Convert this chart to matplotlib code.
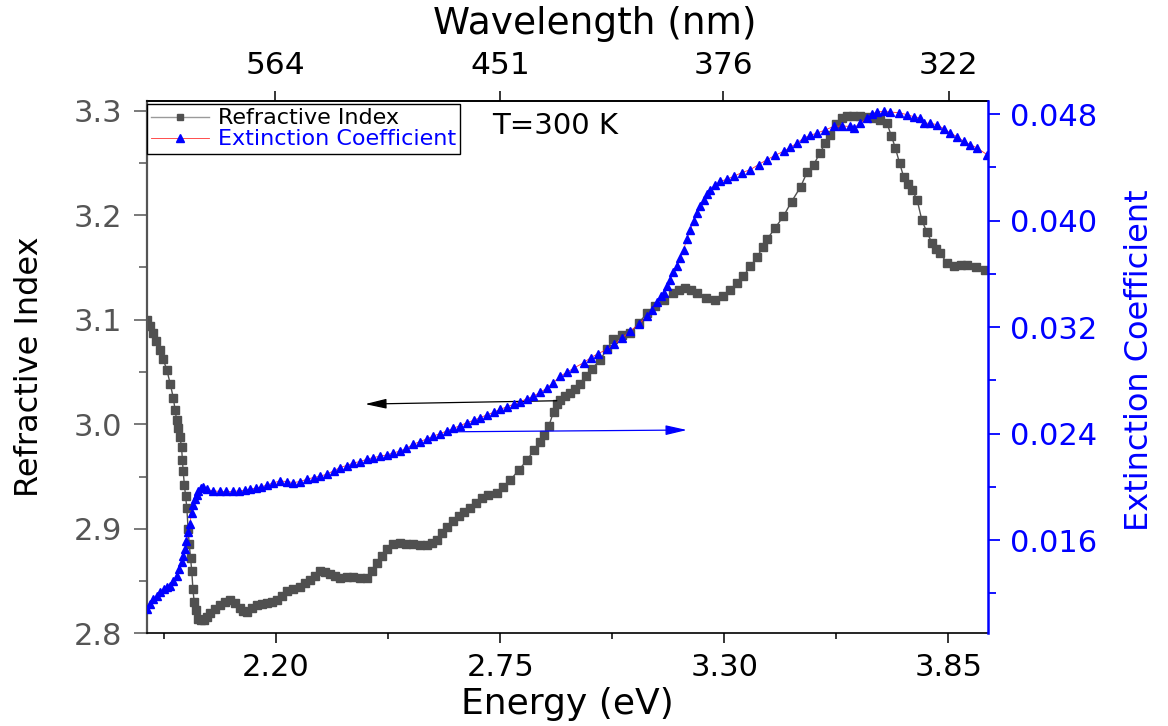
import matplotlib
matplotlib.use("Agg")
import matplotlib.pyplot as plt
from matplotlib.ticker import FixedLocator, FormatStrFormatter, NullLocator

plt.rcParams['font.family'] = ['DejaVu Sans']

# ---------------- data ----------------
energy_n_eV = [
    1.8825, 1.890, 1.898, 1.906, 1.915, 1.923, 1.932, 1.940, 1.948, 1.952,
    1.956, 1.960, 1.964, 1.968, 1.970, 1.972, 1.975, 1.978, 1.981, 1.984,
    1.987, 1.990, 1.993, 1.996, 1.999, 2.003, 2.008, 2.015, 2.022, 2.030,
    2.038, 2.050, 2.062, 2.075, 2.087, 2.100, 2.112, 2.120, 2.128, 2.140,
    2.153, 2.165, 2.177, 2.190, 2.202, 2.214, 2.226, 2.242, 2.259, 2.272,
    2.283, 2.296, 2.308, 2.320, 2.333, 2.345, 2.357, 2.373, 2.390, 2.406,
    2.423, 2.435, 2.447, 2.459, 2.472, 2.488, 2.504, 2.520, 2.537, 2.553,
    2.570, 2.582, 2.595, 2.607, 2.619, 2.633, 2.648, 2.662, 2.676, 2.690,
    2.705, 2.720, 2.742, 2.758, 2.775, 2.795, 2.816, 2.832, 2.848, 2.858,
    2.869, 2.881, 2.890, 2.897, 2.910, 2.922, 2.934, 2.946, 2.960, 2.975,
    2.995, 3.012, 3.028, 3.048, 3.069, 3.090, 3.110, 3.130, 3.151, 3.175,
    3.190, 3.204, 3.218, 3.233, 3.255, 3.278, 3.296, 3.315, 3.330, 3.347,
    3.364, 3.380, 3.396, 3.405, 3.425, 3.445, 3.465, 3.487, 3.503, 3.519,
    3.535, 3.548, 3.560, 3.575, 3.590, 3.601, 3.615, 3.634, 3.650, 3.666,
    3.683, 3.699, 3.710, 3.720, 3.730, 3.740, 3.750, 3.761, 3.773, 3.785,
    3.797, 3.810, 3.820, 3.830, 3.847, 3.863, 3.880, 3.896, 3.918, 3.940,
]
refractive_index = [
    3.100, 3.094, 3.087, 3.080, 3.071, 3.062, 3.052, 3.039, 3.025, 3.014,
    3.004, 2.996, 2.988, 2.978, 2.966, 2.955, 2.942, 2.931, 2.920, 2.900,
    2.885, 2.872, 2.860, 2.842, 2.830, 2.822, 2.814, 2.8125, 2.813, 2.816,
    2.819, 2.823, 2.827, 2.830, 2.832, 2.829, 2.824, 2.821, 2.8206, 2.824,
    2.827, 2.828, 2.829, 2.830, 2.832, 2.836, 2.840, 2.842, 2.8445, 2.848,
    2.851, 2.855, 2.860, 2.859, 2.857, 2.855, 2.853, 2.854, 2.854, 2.853,
    2.853, 2.860, 2.867, 2.874, 2.881, 2.885, 2.886, 2.885, 2.885, 2.884,
    2.884, 2.886, 2.889, 2.896, 2.902, 2.907, 2.912, 2.916, 2.9195, 2.925,
    2.929, 2.932, 2.934, 2.940, 2.9466, 2.956, 2.9657, 2.975, 2.983, 2.990,
    2.998, 3.012, 3.019, 3.023, 3.027, 3.0296, 3.034, 3.039, 3.046, 3.053,
    3.0614, 3.072, 3.082, 3.085, 3.087, 3.097, 3.106, 3.113, 3.119, 3.1253,
    3.128, 3.130, 3.128, 3.1253, 3.121, 3.119, 3.123, 3.128, 3.135, 3.142,
    3.151, 3.160, 3.170, 3.177, 3.188, 3.199, 3.213, 3.227, 3.241, 3.248,
    3.260, 3.269, 3.277, 3.287, 3.293, 3.295, 3.295, 3.295, 3.294, 3.293,
    3.291, 3.288, 3.276, 3.264, 3.250, 3.237, 3.230, 3.224, 3.215, 3.195,
    3.184, 3.173, 3.168, 3.1635, 3.154, 3.151, 3.152, 3.1524, 3.150, 3.148,
]

energy_k_eV = [
    1.8825, 1.890, 1.899, 1.907, 1.915, 1.925, 1.933, 1.940, 1.948, 1.956,
    1.962, 1.968, 1.972, 1.9765, 1.980, 1.9846, 1.988, 1.993, 1.997, 2.001,
    2.005, 2.009, 2.015, 2.0215, 2.030, 2.046, 2.062, 2.078, 2.095, 2.110,
    2.123, 2.136, 2.150, 2.163, 2.177, 2.193, 2.2098, 2.226, 2.2424, 2.259,
    2.2754, 2.292, 2.308, 2.3244, 2.341, 2.3571, 2.373, 2.390, 2.406, 2.4226,
    2.439, 2.455, 2.472, 2.488, 2.5044, 2.520, 2.537, 2.553, 2.570, 2.5862,
    2.603, 2.619, 2.635, 2.652, 2.6682, 2.685, 2.701, 2.717, 2.734, 2.750,
    2.766, 2.783, 2.799, 2.815, 2.8317, 2.848, 2.864, 2.880, 2.897, 2.913,
    2.930, 2.9545, 2.972, 2.990, 3.012, 3.030, 3.050, 3.0691, 3.090, 3.1101,
    3.122, 3.135, 3.145, 3.1509, 3.159, 3.1673, 3.175, 3.1837, 3.192, 3.2001,
    3.208, 3.2165, 3.225, 3.2329, 3.241, 3.2491, 3.257, 3.2655, 3.278, 3.2901,
    3.306, 3.3227, 3.343, 3.3638, 3.384, 3.4047, 3.425, 3.4455, 3.462, 3.4784,
    3.495, 3.511, 3.5275, 3.548, 3.5683, 3.589, 3.6093, 3.6174, 3.634, 3.6503,
    3.662, 3.6748, 3.691, 3.7075, 3.728, 3.7484, 3.765, 3.7811, 3.7892, 3.806,
    3.8222, 3.838, 3.8548, 3.871, 3.8874, 3.904, 3.9203, 3.9449,
]
extinction_coefficient = [
    0.0108, 0.0112, 0.01157, 0.0118, 0.01207, 0.0123, 0.01245, 0.01257, 0.0129, 0.01332,
    0.0138, 0.01432, 0.0148, 0.01532, 0.0159, 0.01657, 0.0172, 0.01807, 0.0186, 0.01907,
    0.0194, 0.01969, 0.0199, 0.01995, 0.0198, 0.01969, 0.01966, 0.01965, 0.01965, 0.0197,
    0.01975, 0.01982, 0.0199, 0.0200, 0.02012, 0.0203, 0.02044, 0.0204, 0.02032, 0.0204,
    0.02057, 0.0207, 0.0208, 0.02095, 0.0212, 0.02145, 0.0216, 0.0218, 0.0219, 0.02207,
    0.0222, 0.0223, 0.0224, 0.02255, 0.02269, 0.0229, 0.0232, 0.0234, 0.0236, 0.02382,
    0.0240, 0.0242, 0.0244, 0.0246, 0.02482, 0.0250, 0.0252, 0.0254, 0.0256, 0.02582,
    0.0260, 0.0262, 0.0264, 0.0266, 0.02682, 0.0271, 0.0274, 0.0278, 0.0283, 0.0286,
    0.0289, 0.02932, 0.0297, 0.0300, 0.03032, 0.0307, 0.0312, 0.03169, 0.0322, 0.03282,
    0.0333, 0.0339, 0.0343, 0.03457, 0.0351, 0.03557, 0.0361, 0.03657, 0.0372, 0.03782,
    0.0386, 0.03932, 0.0400, 0.04057, 0.0411, 0.04157, 0.0420, 0.04232, 0.0427, 0.04294,
    0.0431, 0.04332, 0.0436, 0.04382, 0.0442, 0.04457, 0.0449, 0.0452, 0.0455, 0.04582,
    0.0462, 0.0464, 0.04657, 0.0468, 0.04707, 0.0471, 0.04707, 0.04695, 0.0473, 0.0477,
    0.0480, 0.04815, 0.0482, 0.04815, 0.0481, 0.04795, 0.0478, 0.0477, 0.04732, 0.0473,
    0.0472, 0.0469, 0.04657, 0.0463, 0.04595, 0.0457, 0.04545, 0.04495,
]

energy_ticks = [2.20, 2.75, 3.30, 3.85]
energy_minor_ticks = [1.925, 2.475, 3.025, 3.575]
wavelength_ticks_nm = [564, 451, 376, 322]
n_ticks = [2.8, 2.9, 3.0, 3.1, 3.2, 3.3]
n_minor_ticks = [2.85, 2.95, 3.05, 3.15, 3.25]
k_ticks = [0.016, 0.024, 0.032, 0.040, 0.048]
k_minor_ticks = [0.012, 0.020, 0.028, 0.036, 0.044]

GRAY = '#505050'
BLUE = '#0000ff'

fig = plt.figure(figsize=(11.68, 7.26), dpi=100)
ax1 = fig.add_axes([0.1256, 0.1277, 0.7206, 0.7336])
ax2 = ax1.twinx()

ln1, = ax1.plot(energy_n_eV, refractive_index, color=GRAY, lw=1.0,
                marker='s', ms=5.2, mec=GRAY, mfc=GRAY, label='Refractive Index')
ln2, = ax2.plot(energy_k_eV, extinction_coefficient, color='#ff3030', lw=0.6,
                marker='^', ms=6.4, mec=BLUE, mfc=BLUE, label='Extinction Coefficient')

ax1.set_xlim(1.8825, 3.948)
ax1.set_ylim(2.8, 3.3096)
ax2.set_ylim(0.0090, 0.0490)

# ticks
ax1.xaxis.set_major_locator(FixedLocator(energy_ticks))
ax1.xaxis.set_minor_locator(FixedLocator(energy_minor_ticks))
ax1.xaxis.set_major_formatter(FormatStrFormatter('%.2f'))
ax1.yaxis.set_major_locator(FixedLocator(n_ticks))
ax1.yaxis.set_minor_locator(FixedLocator(n_minor_ticks))
ax1.yaxis.set_major_formatter(FormatStrFormatter('%.1f'))
ax2.yaxis.set_major_locator(FixedLocator(k_ticks))
ax2.yaxis.set_minor_locator(FixedLocator(k_minor_ticks))
ax2.yaxis.set_major_formatter(FormatStrFormatter('%.3f'))

ax1.tick_params(axis='x', which='major', direction='out', length=7, width=1.1,
                labelsize=22, pad=7, colors='black')
ax1.tick_params(axis='x', which='minor', direction='out', length=4, width=1.1)
ax1.tick_params(axis='y', which='major', direction='out', length=9.5, width=1.1,
                labelsize=22, pad=8, color='#555555', labelcolor='#555555')
ax1.tick_params(axis='y', which='minor', direction='out', length=5.5, width=1.1,
                color='#555555')
ax2.tick_params(axis='y', which='major', direction='out', length=8.5, width=1.3,
                labelsize=22, pad=7, colors=BLUE)
ax2.tick_params(axis='y', which='minor', direction='out', length=5.5, width=1.3,
                colors=BLUE)

ax1.spines['left'].set_color('#555555')
ax1.spines['left'].set_linewidth(1.6)
for s in ['bottom', 'top']:
    ax1.spines[s].set_color('black')
    ax1.spines[s].set_linewidth(1.2)
ax1.spines['right'].set_visible(False)
for s in ['left', 'top', 'bottom']:
    ax2.spines[s].set_visible(False)
ax2.spines['right'].set_color(BLUE)
ax2.spines['right'].set_linewidth(1.8)

# top wavelength axis
secax = ax1.secondary_xaxis('top', functions=(lambda e: 1240.0 / e, lambda w: 1240.0 / w))
secax.xaxis.set_major_locator(FixedLocator(wavelength_ticks_nm))
secax.xaxis.set_minor_locator(NullLocator())
secax.xaxis.set_major_formatter(FormatStrFormatter('%d'))
secax.tick_params(axis='x', which='major', direction='out', length=7, width=1.1,
                  labelsize=22.5, pad=8)
secax.spines['top'].set_linewidth(1.2)

# axis titles
fig.text(595 / 1168, 1 - 24 / 726, 'Wavelength (nm)', fontsize=27,
         ha='center', va='center')
fig.text(567 / 1168, 1 - 704 / 726, 'Energy (eV)', fontsize=26,
         ha='center', va='center')
fig.text(30 / 1168, 1 - 367 / 726, 'Refractive Index', fontsize=23,
         rotation=90, ha='center', va='center')
fig.text(1139 / 1168, 1 - 360 / 726, 'Extinction Coefficient', fontsize=23,
         rotation=90, ha='center', va='center', color=BLUE)

# annotation text
ax1.text(2.73, 3.2774, 'T=300 K', fontsize=21, ha='left', va='baseline')

# arrows
ax1.annotate('', xy=(2.4185, 3.0193), xytext=(2.889, 3.0225),
             arrowprops=dict(arrowstyle='-|>,head_length=0.65,head_width=0.15',
                             color='black', lw=0.9, shrinkA=0, shrinkB=0,
                             mutation_scale=20))
ax1.annotate('', xy=(3.2083, 2.9945), xytext=(2.6345, 2.9928),
             arrowprops=dict(arrowstyle='-|>,head_length=0.65,head_width=0.15',
                             color=BLUE, lw=0.9, shrinkA=0, shrinkB=0,
                             mutation_scale=20))

# legend
leg = ax2.legend(handles=[ln1, ln2], loc='upper left', bbox_to_anchor=(0.0, 0.994),
                 borderaxespad=0, fontsize=16, frameon=True, fancybox=False,
                 edgecolor='black', framealpha=1, numpoints=1,
                 handlelength=2.6, handletextpad=0.4, labelspacing=0.05,
                 borderpad=0.2)
leg.get_frame().set_linewidth(1.0)
leg.legend_handles[0].set_color('#9a9a9a')
leg.legend_handles[0].set_markerfacecolor(GRAY)
leg.legend_handles[0].set_markeredgecolor(GRAY)
leg.legend_handles[0].set_markersize(4.5)
leg.legend_handles[1].set_markersize(5.5)
leg.get_texts()[0].set_color('black')
leg.get_texts()[1].set_color(BLUE)

fig.savefig('out.png', dpi=100)
